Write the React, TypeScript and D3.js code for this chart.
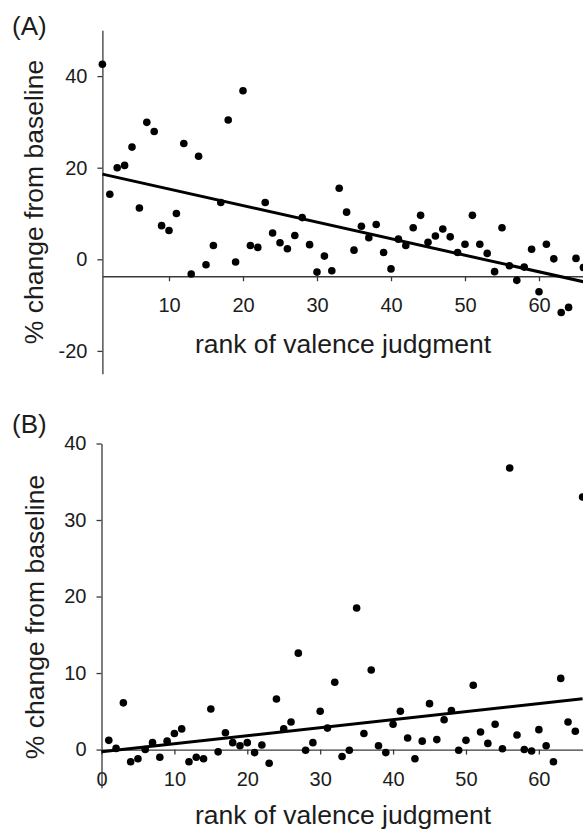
import React, { useRef, useEffect } from "react";
import * as d3 from "d3";

// panel A: % change from baseline by rank of valence judgment (ranks 1..66)
const valuesA = [
  42.6, 14.2, 20.0, 20.5, 24.5, 11.2, 29.9, 27.9, 7.35, 6.3,
  10.0, 25.3, -3.2, 22.5, -1.2, 3.0, 12.4, 30.4, -0.6, 36.8,
  3.0, 2.6, 12.4, 5.75, 3.6, 2.3, 5.2, 9.1, 3.2, -2.8,
  0.7, -2.5, 15.5, 10.3, 2.0, 7.2, 4.7, 7.6, 1.5, -2.1,
  4.4, 3.0, 6.9, 9.6, 3.7, 5.1, 6.6, 4.9, 1.5, 3.3,
  9.6, 3.3, 1.3, -2.7, 6.9, -1.4, -4.6, -1.7, 2.2, -7.1,
  3.3, 0.1, -11.6, -10.5, 0.2, -1.8,
];

// panel B
const valuesB = [
  1.2, 0.15, 6.1, -1.6, -1.2, 0.0, 0.9, -1.0, 1.1, 2.1,
  2.7, -1.6, -1.0, -1.2, 5.3, -0.3, 2.2, 0.9, 0.5, 0.9,
  -0.4, 0.6, -1.8, 6.6, 2.7, 3.6, 12.6, -0.1, 0.9, 5.0,
  2.8, 8.8, -0.9, -0.1, 18.5, 2.1, 10.4, 0.5, -0.4, 3.3,
  5.0, 1.5, -1.2, 1.1, 6.0, 1.3, 3.9, 5.1, -0.1, 1.2,
  8.4, 2.3, 0.8, 3.3, 0.1, 36.8, 1.9, 0.0, -0.2, 2.6,
  0.5, -1.6, 9.3, 3.6, 2.4, 33.0,
];

// fitted trend lines
const trendA = [
  { rank: 1, value: 18.6 },
  { rank: 66, value: -4.9 },
];
const trendB = [
  { rank: 0, value: -0.28 },
  { rank: 66, value: 6.64 },
];

const xTicksA = [10, 20, 30, 40, 50, 60];
const yTicksA = [-20, 0, 20, 40];
const xTicksB = [0, 10, 20, 30, 40, 50, 60];
const yTicksB = [0, 10, 20, 30, 40];

const xTitle = "rank of valence judgment";
const yTitle = "% change from baseline";

const FONT = "'Liberation Sans', Arial, sans-serif";
const AXIS = "#3a3a3a";
const TEXT = "#1c1c1c";

const drawPanel = (svg, cfg) => {
  const { values, firstRank, trend, xScale, yScale, xTicks, yTicks, xCross, label, labelY, xTitleY, yTitleX, yTitleY } = cfg;
  const g = svg.append("g");

  const xAxis = g
    .append("g")
    .attr("transform", `translate(0,${yScale(xCross)})`)
    .call(d3.axisBottom(xScale).tickValues(xTicks).tickSize(5).tickSizeOuter(0).tickPadding(16.8).tickFormat(d3.format("d")));

  const yAxis = g
    .append("g")
    .attr("transform", `translate(${xScale(xScale.domain()[0])},0)`)
    .call(d3.axisLeft(yScale).tickValues(yTicks).tickSize(5).tickSizeOuter(0).tickPadding(10).tickFormat((d) => String(d)));

  [xAxis, yAxis].forEach((ax) => {
    ax.selectAll("path,line").attr("stroke", AXIS).attr("stroke-width", 1.3);
    ax.selectAll("text").attr("fill", TEXT).attr("font-size", 20).attr("font-family", FONT);
  });

  const pts = values.map((v, i) => ({ rank: i + firstRank, value: v }));
  g.append("g")
    .selectAll("circle")
    .data(pts)
    .join("circle")
    .attr("cx", (d) => xScale(d.rank))
    .attr("cy", (d) => yScale(d.value))
    .attr("r", 3.8)
    .attr("fill", "#000");

  const line = d3
    .line()
    .x((d) => xScale(d.rank))
    .y((d) => yScale(d.value));

  g.append("path")
    .datum(trend)
    .attr("fill", "none")
    .attr("stroke", "#000")
    .attr("stroke-width", 3)
    .attr("d", line);

  g.append("text")
    .attr("x", 12)
    .attr("y", labelY)
    .attr("font-size", 26)
    .attr("font-family", FONT)
    .attr("fill", TEXT)
    .text(label);

  g.append("text")
    .attr("x", 343)
    .attr("y", xTitleY)
    .attr("text-anchor", "middle")
    .attr("font-size", 26.5)
    .attr("font-family", FONT)
    .attr("fill", TEXT)
    .text(xTitle);

  g.append("text")
    .attr("transform", `translate(${yTitleX},${yTitleY}) rotate(-90)`)
    .attr("text-anchor", "middle")
    .attr("font-size", 26.5)
    .attr("font-family", FONT)
    .attr("fill", TEXT)
    .text(yTitle);
};

const App = () => {
  const svgRef = useRef(null);

  useEffect(() => {
    const svg = d3.select(svgRef.current);
    svg.selectAll("*").remove();

    drawPanel(svg, {
      values: valuesA,
      firstRank: 1,
      trend: trendA,
      xScale: d3.scaleLinear().domain([1, 66]).range([102.4, 583.4]),
      yScale: d3.scaleLinear().domain([-25, 50]).range([373.8, 30.3]),
      xTicks: xTicksA,
      yTicks: yTicksA,
      xCross: -3.7,
      label: "(A)",
      labelY: 35,
      xTitleY: 353,
      yTitleX: 43,
      yTitleY: 202,
    });

    drawPanel(svg, {
      values: valuesB,
      firstRank: 1,
      trend: trendB,
      xScale: d3.scaleLinear().domain([0, 66]).range([101.5, 582.6]),
      yScale: d3.scaleLinear().domain([-5, 40]).range([787.8, 443.5]),
      xTicks: xTicksB,
      yTicks: yTicksB,
      xCross: 0,
      label: "(B)",
      labelY: 433,
      xTitleY: 824,
      yTitleX: 44,
      yTitleY: 617,
    });
  }, []);

  return (
    <svg
      ref={svgRef}
      width={583}
      height={830}
      style={{ position: "absolute", left: 0, top: 0, background: "#fff" }}
    ></svg>
  );
};

export default App;
